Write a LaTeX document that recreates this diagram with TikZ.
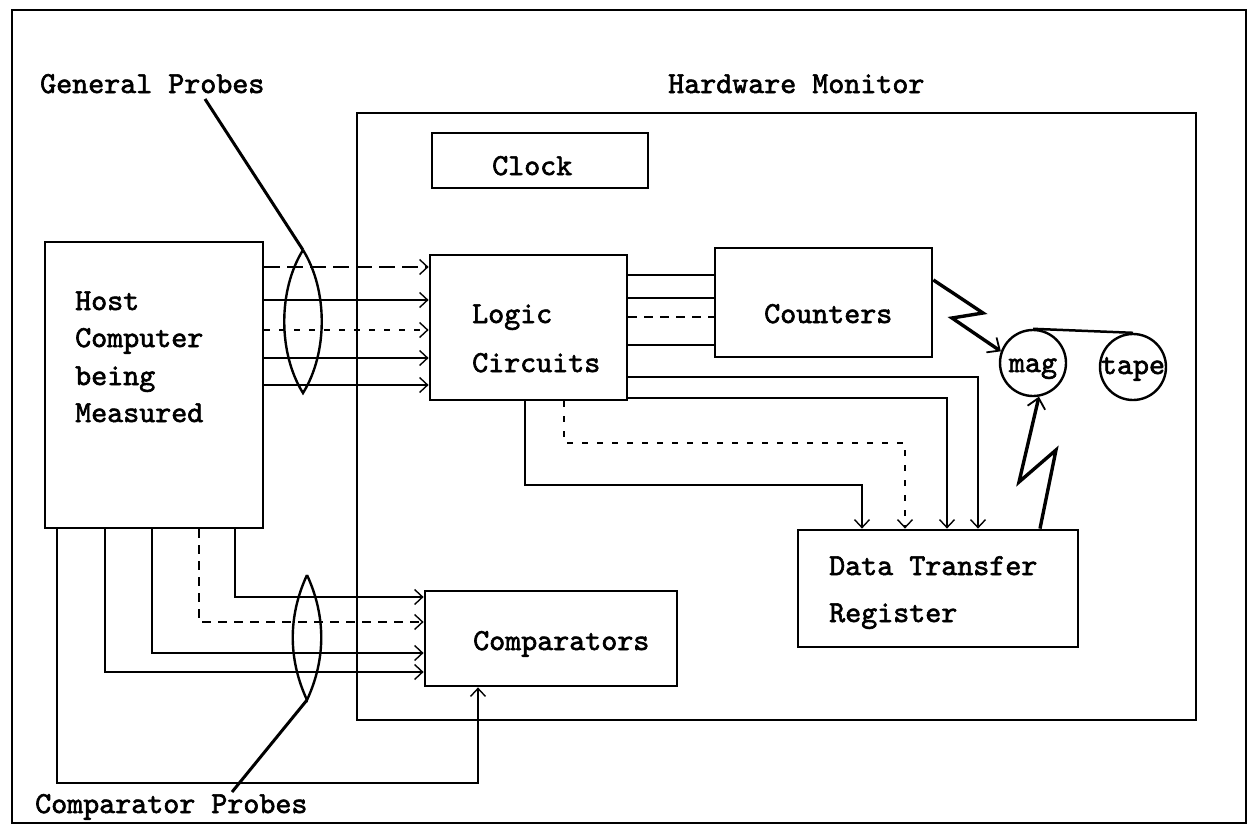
\documentclass[tikz,border=0pt]{standalone}
\usepackage{fontspec}
\newfontfamily\tw{lmmono10-regular.otf}[FakeBold=2]
\usetikzlibrary{arrows.meta}
\begin{document}
\begin{tikzpicture}[x=1pt,y=-1pt,
  box/.style={draw, line width=2.8pt, inner sep=0pt},
  txt/.style={font=\tw\fontsize{30.5}{36}\selectfont, inner sep=0pt, anchor=base west},
  ln/.style={line width=2.5pt},
  arr/.style={line width=2.5pt, -{Straight Barb[length=8pt,width=15pt,line width=1.4pt]}},
  longdash/.style={dash pattern=on 16pt off 7pt},
  shortdash/.style={dash pattern=on 6pt off 9pt},
  middash/.style={dash pattern=on 9pt off 7pt},
  zig/.style={line width=3.4pt, -{Straight Barb[length=10pt,width=18pt,line width=1.8pt]}}]
\useasboundingbox (0,0) rectangle (1256,827);
% outer frame
\draw[line width=2pt] (12,10) rectangle (1246,823);

% boxes
\node[box, minimum width=218pt, minimum height=286pt] (host) at (154,385) {};
\node[box, minimum width=839pt, minimum height=607pt] (hw) at (776.5,416.5) {};
\node[box, minimum width=216pt, minimum height=55pt] (clock) at (540,160.5) {};
\node[box, minimum width=197pt, minimum height=145pt] (logic) at (528.5,327.5) {};
\node[box, minimum width=217pt, minimum height=109pt] (counters) at (823.5,302.5) {};
\node[box, minimum width=280pt, minimum height=117pt] (dtr) at (938,588.5) {};
\node[box, minimum width=252pt, minimum height=95pt] (comp) at (551,638.5) {};
\node[draw, circle, line width=2.4pt, minimum size=66pt, inner sep=0pt] (mag) at (1033,363) {};
\node[draw, circle, line width=2.4pt, minimum size=66pt, inner sep=0pt] (tape) at (1133,367) {};

% texts
\node[txt] (gplab) at (40,93) {General Probes};
\node[txt] (hwlab) at (668,93) {Hardware Monitor};
\node[txt] (clocklab) at (492,175) {Clock};
\node[txt] (h1) at (75,310) {Host};
\node[txt] (h2) at (75,347) {Computer};
\node[txt] (h3) at (75,385) {being};
\node[txt] (h4) at (75,422) {Measured};
\node[txt] (l1) at (472,323) {Logic};
\node[txt] (l2) at (472,372) {Circuits};
\node[txt] (cntlab) at (764,323) {Counters};
\node[txt] (d1) at (829,575) {Data Transfer};
\node[txt] (d2) at (829,622) {Register};
\node[txt] (cmplab) at (473,650) {Comparators};
\node[txt, anchor=base] (maglab) at (1033,372) {mag};
\node[txt, anchor=base] (tapelab) at (1133,374) {tape};
\node[txt] (cplab) at (35,813) {Comparator Probes};

% general probes: host -> logic
\draw[arr, longdash] (host.east |- 0,267) -- (logic.west |- 0,267);
\draw[arr] (host.east |- 0,300) -- (logic.west |- 0,300);
\draw[arr, shortdash] (host.east |- 0,330) -- (logic.west |- 0,330);
\draw[arr] (host.east |- 0,358) -- (logic.west |- 0,358);
\draw[arr] (host.east |- 0,385) -- (logic.west |- 0,385);

% general probes lens and pointer
\draw[line width=2.4pt] (303,250) .. controls (278,290) and (278,353) .. (303,393)
  .. controls (328,353) and (328,290) .. (303,250);
\coordinate (gp) at (303,250);
\coordinate (gpt) at (205,99);
\draw[line width=3pt] (gpt) -- (gp);

% logic -> counters
\draw[ln] (logic.east |- 0,275) -- (counters.west |- 0,275);
\draw[ln] (logic.east |- 0,298) -- (counters.west |- 0,298);
\draw[ln, middash] (logic.east |- 0,317) -- (counters.west |- 0,317);
\draw[ln] (logic.east |- 0,345) -- (counters.west |- 0,345);

% logic -> data transfer register
\draw[arr] (logic.east |- 0,377) -| (dtr.north -| 978,0);
\draw[arr] (logic.east |- 0,398) -| (dtr.north -| 947,0);
\draw[arr, shortdash] (logic.south -| 564,0) |- (905,443) -- (dtr.north -| 905,0);
\draw[arr] (logic.south -| 525,0) |- (862,485) -- (dtr.north -| 862,0);

% counters -> mag, dtr -> mag
\draw[zig] (counters.east |- 0,280) -- (983,313) -- (952,318) -- (mag.160);
\draw[zig] (dtr.north -| 1040,0) -- (1056,450) -- (1019,482) -- (mag.-80);
\draw[ln] (mag.north) -- (tape.north);

% host -> comparators
\draw[arr] (host.south -| 235,0) |- (comp.west |- 0,597);
\draw[arr, middash] (host.south -| 199,0) |- (comp.west |- 0,622);
\draw[arr] (host.south -| 152,0) |- (comp.west |- 0,653);
\draw[arr] (host.south -| 105,0) |- (comp.west |- 0,672);
\draw[arr] (host.south -| 57,0) |- (478,783) -- (comp.south -| 478,0);

% comparator probes lens and pointer
\draw[line width=2.4pt] (307,575) .. controls (288,616) and (288,659) .. (307,700)
  .. controls (326,659) and (326,616) .. (307,575);
\coordinate (cp) at (307,700);
\coordinate (cpt) at (232,792);
\draw[line width=3pt] (cpt) -- (cp);
\end{tikzpicture}
\end{document}
